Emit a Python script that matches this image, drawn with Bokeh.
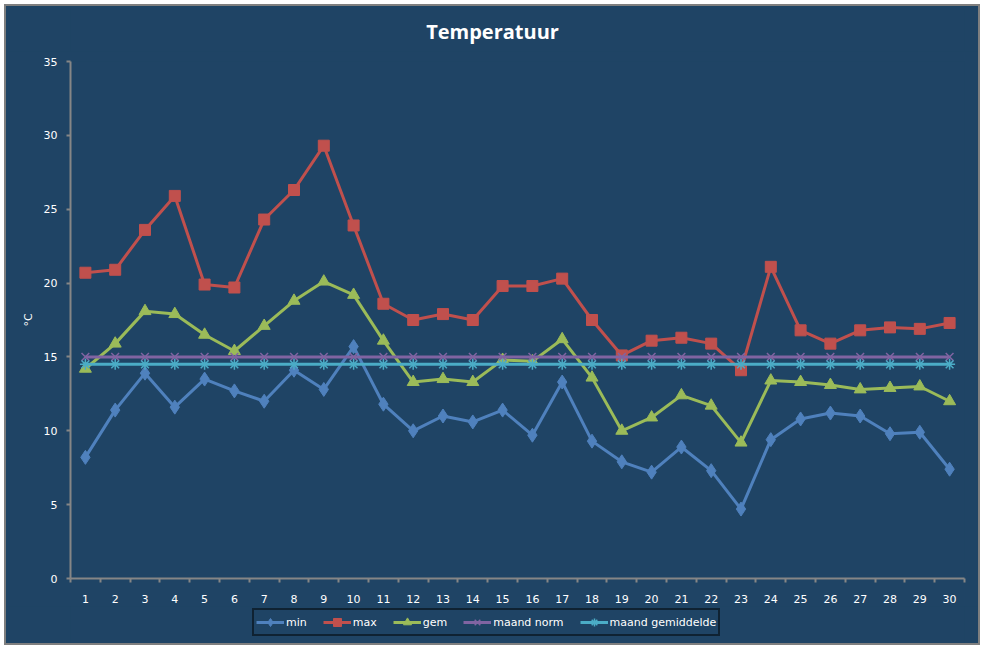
from bokeh.plotting import figure
from bokeh.models import FixedTicker, Legend, LegendItem, Range1d, Label
from bokeh.layouts import column
from bokeh.embed import file_html
from bokeh.resources import INLINE

# ---- data ----
days = list(range(1, 31))
t_min = [8.2, 11.4, 13.9, 11.6, 13.5, 12.7, 12.0, 14.1, 12.8, 15.7,
         11.8, 10.0, 11.0, 10.6, 11.4, 9.7, 13.3, 9.3, 7.9, 7.2,
         8.9, 7.3, 4.7, 9.4, 10.8, 11.2, 11.0, 9.8, 9.9, 7.4]
t_max = [20.7, 20.9, 23.6, 25.9, 19.9, 19.7, 24.3, 26.3, 29.3, 23.9,
         18.6, 17.5, 17.9, 17.5, 19.8, 19.8, 20.3, 17.5, 15.1, 16.1,
         16.3, 15.9, 14.1, 21.1, 16.8, 15.9, 16.8, 17.0, 16.9, 17.3]
t_gem = [14.2, 15.9, 18.1, 17.9, 16.5, 15.4, 17.1, 18.8, 20.1, 19.2,
         16.1, 13.3, 13.5, 13.3, 14.8, 14.7, 16.2, 13.6, 10.0, 10.9,
         12.4, 11.7, 9.2, 13.4, 13.3, 13.1, 12.8, 12.9, 13.0, 12.0]
maand_norm = [15.0] * 30
maand_gemiddelde = [14.5] * 30
y_ticks = [0, 5, 10, 15, 20, 25, 30, 35]
title_text = "Temperatuur"
y_label = "°C"

BG = "#1F4465"
WHITE = "#FFFFFF"
GRAY = "#868686"
W = 972


def bare(fig):
    fig.border_fill_color = BG
    fig.background_fill_color = BG
    fig.outline_line_alpha = 0
    fig.grid.visible = False
    return fig


# ---- title strip (frame is aligned with the main chart's frame by the column) ----
p_top = bare(figure(width=W, height=45, output_backend="svg", toolbar_location=None,
                    x_axis_location=None, y_axis_location=None, title=None,
                    min_border=0, x_range=Range1d(0, 1), y_range=Range1d(0, 1)))
p_top.add_layout(Label(x=422, y=20, x_units="screen", y_units="screen",
                       text=title_text, text_align="center", text_baseline="middle",
                       text_color=WHITE, text_font="Open Sans", text_font_style="bold",
                       text_font_size="20px"))

# ---- main chart ----
p = bare(figure(width=W, height=555, output_backend="svg", toolbar_location=None,
                x_range=Range1d(0.5, 30.5), y_range=Range1d(0, 35), title=None,
                min_border_left=64, min_border_right=14, min_border_top=10,
                min_border_bottom=28))

xa = p.xaxis[0]
xa.ticker = FixedTicker(ticks=days, minor_ticks=[d + 0.5 for d in range(0, 31)])
xa.major_tick_out = 0
xa.major_tick_in = 0
xa.minor_tick_out = 4
xa.minor_tick_in = 0
xa.minor_tick_line_color = GRAY
xa.minor_tick_line_width = 2
xa.axis_line_color = GRAY
xa.axis_line_width = 2
xa.major_label_standoff = 12
xa.major_label_text_color = WHITE
xa.major_label_text_font = "DejaVu Sans"
xa.major_label_text_font_size = "11px"

ya = p.yaxis[0]
ya.ticker = FixedTicker(ticks=y_ticks)
ya.major_tick_out = 4
ya.major_tick_in = 0
ya.minor_tick_line_alpha = 0
ya.major_tick_line_color = GRAY
ya.major_tick_line_width = 2
ya.axis_line_color = GRAY
ya.axis_line_width = 2
ya.major_label_standoff = 9
ya.major_label_text_color = WHITE
ya.major_label_text_font = "DejaVu Sans"
ya.major_label_text_font_size = "11px"
ya.axis_label = y_label
ya.axis_label_text_color = WHITE
ya.axis_label_text_font = "DejaVu Sans"
ya.axis_label_text_font_size = "11px"
ya.axis_label_text_font_style = "normal"
ya.axis_label_standoff = 6

series = [
    ("min", t_min, "#4F81BD", "diamond", 14, 1),
    ("max", t_max, "#C0504D", "square", 11, 1),
    ("gem", t_gem, "#9BBB59", "triangle", 12, 1),
    ("maand norm", maand_norm, "#8064A2", "x", 11, 1.5),
    ("maand gemiddelde", maand_gemiddelde, "#4BACC6", "asterisk", 11, 1.5),
]

# ---- legend strip ----
p_bot = bare(figure(width=W, height=37, output_backend="svg", toolbar_location=None,
                    x_axis_location=None, y_axis_location=None, title=None,
                    min_border=0, x_range=Range1d(0.5, 30.5), y_range=Range1d(0, 35)))

items = []
for name, ys, color, marker, size, lw in series:
    p.line(days, ys, line_color=color, line_width=3)
    p.scatter(days, ys, marker=marker, size=size, fill_color=color,
              line_color=color, line_width=lw)
    # legend swatches (same series, hidden in the legend strip)
    l1 = p_bot.line(days, ys, line_color=color, line_width=3, visible=False)
    l2 = p_bot.scatter(days, ys, marker=marker, size=size, fill_color=color,
                       line_color=color, line_width=lw, visible=False)
    items.append(LegendItem(label=name, renderers=[l1, l2]))

legend = Legend(items=items, orientation="horizontal", location=(182, 7),
                padding=2, margin=0, spacing=16, label_standoff=2,
                glyph_width=28, glyph_height=20,
                label_text_color=WHITE, label_text_font="DejaVu Sans",
                label_text_font_size="11px", border_line_color="black",
                border_line_width=2, background_fill_alpha=0)
p_bot.add_layout(legend, "center")

layout = column(p_top, p, p_bot, spacing=0, margin=(4, 0, 0, 4),
                styles={"border": "2px solid #7F7F7F", "background-color": BG})

open("out.html", "w").write(file_html(layout, INLINE))
